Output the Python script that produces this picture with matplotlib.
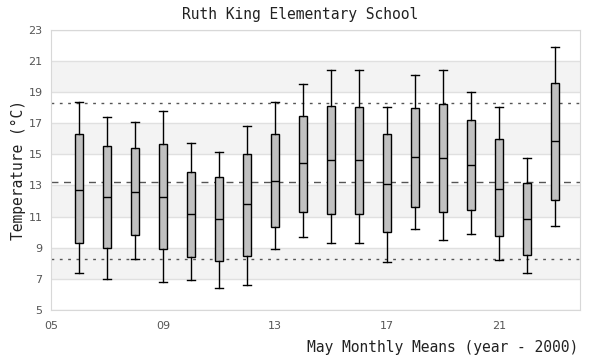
import matplotlib
matplotlib.use('Agg')
import matplotlib.pyplot as plt

# May monthly means, box summary per year
years = [6, 7, 8, 9, 10, 11, 12, 13, 14, 15, 16, 17, 18, 19, 20, 21, 22, 23]
whisk_lo = [7.36, 6.97, 8.26, 6.78, 6.91, 6.39, 6.59, 8.90, 9.67, 9.29, 9.29, 8.07,
            10.19, 9.48, 9.87, 8.19, 7.36, 10.38]
q1 = [9.29, 8.97, 9.80, 8.90, 8.43, 8.13, 8.49, 10.36, 11.28, 11.15, 11.15, 9.99,
      11.60, 11.28, 11.41, 9.74, 8.52, 12.05]
med = [12.74, 12.26, 12.56, 12.24, 11.15, 10.83, 11.79, 13.31, 14.43, 14.62, 14.62, 13.12,
       14.81, 14.75, 14.30, 12.80, 10.83, 15.84]
q3 = [16.29, 15.52, 15.39, 15.65, 13.85, 13.53, 15.05, 16.34, 17.49, 18.14, 18.07, 16.34,
      18.01, 18.26, 17.19, 15.97, 13.14, 19.61]
whisk_hi = [18.35, 17.43, 17.06, 17.77, 15.76, 15.18, 16.85, 18.35, 19.51, 20.45, 20.39, 18.07,
            20.09, 20.45, 18.99, 18.07, 14.75, 21.89]

upper_ref = 18.29
mean_ref = 13.21
lower_ref = 8.26

yticks = [5, 7, 9, 11, 13, 15, 17, 19, 21, 23]
xticks = [5, 9, 13, 17, 21]
xticklabels = ['05', '09', '13', '17', '21']

mono = 'DejaVu Sans Mono'

fig = plt.figure(figsize=(6, 3.6), dpi=100)
ax = fig.add_axes([0.085, 0.139, 0.882, 0.778])

# alternating grey bands
for lo in range(7, 23, 4):
    ax.axhspan(lo, lo + 2, color='#f3f3f3', zorder=0, lw=0)
for y in yticks:
    ax.axhline(y, color='#e0e0e0', lw=1, zorder=0.5)

ax.axhline(upper_ref, color='#555555', lw=1, ls=(0, (2, 4)), zorder=1)
ax.axhline(lower_ref, color='#555555', lw=1, ls=(0, (2, 4)), zorder=1)
ax.axhline(mean_ref, color='#555555', lw=1, ls=(0, (5, 4)), zorder=1)

stats = [dict(whislo=a, q1=b, med=c, q3=d, whishi=e, fliers=[])
         for a, b, c, d, e in zip(whisk_lo, q1, med, q3, whisk_hi)]
ax.bxp(stats, positions=years, widths=0.3, patch_artist=True, showfliers=False,
       boxprops=dict(facecolor='#c0c0c0', edgecolor='black', lw=1.0),
       medianprops=dict(color='black', lw=1.0),
       whiskerprops=dict(color='black', lw=1.0),
       capprops=dict(color='black', lw=1.0),
       capwidths=0.3, manage_ticks=False, zorder=2)

ax.set_xlim(5, 23.9)
ax.set_ylim(5, 23)
ax.set_yticks(yticks)
ax.set_xticks(xticks)
ax.set_xticklabels(xticklabels)
ax.tick_params(length=0, labelsize=8, colors='#555555', pad=6)
ax.tick_params(axis='x', pad=8)
for s in ax.spines.values():
    s.set_color('#d8d8d8')

fig.text(0.5, 0.96, 'Ruth King Elementary School', family=mono, fontsize=10.5,
         color='#222222', ha='center', va='center')
fig.text(0.03, 0.527, 'Temperature (°C)', family=mono, fontsize=10.5,
         color='#222222', ha='center', va='center', rotation=90)
fig.text(0.963, 0.035, 'May Monthly Means (year - 2000)', family=mono, fontsize=10.5,
         color='#222222', ha='right', va='center')

fig.savefig('out.png', dpi=100)
